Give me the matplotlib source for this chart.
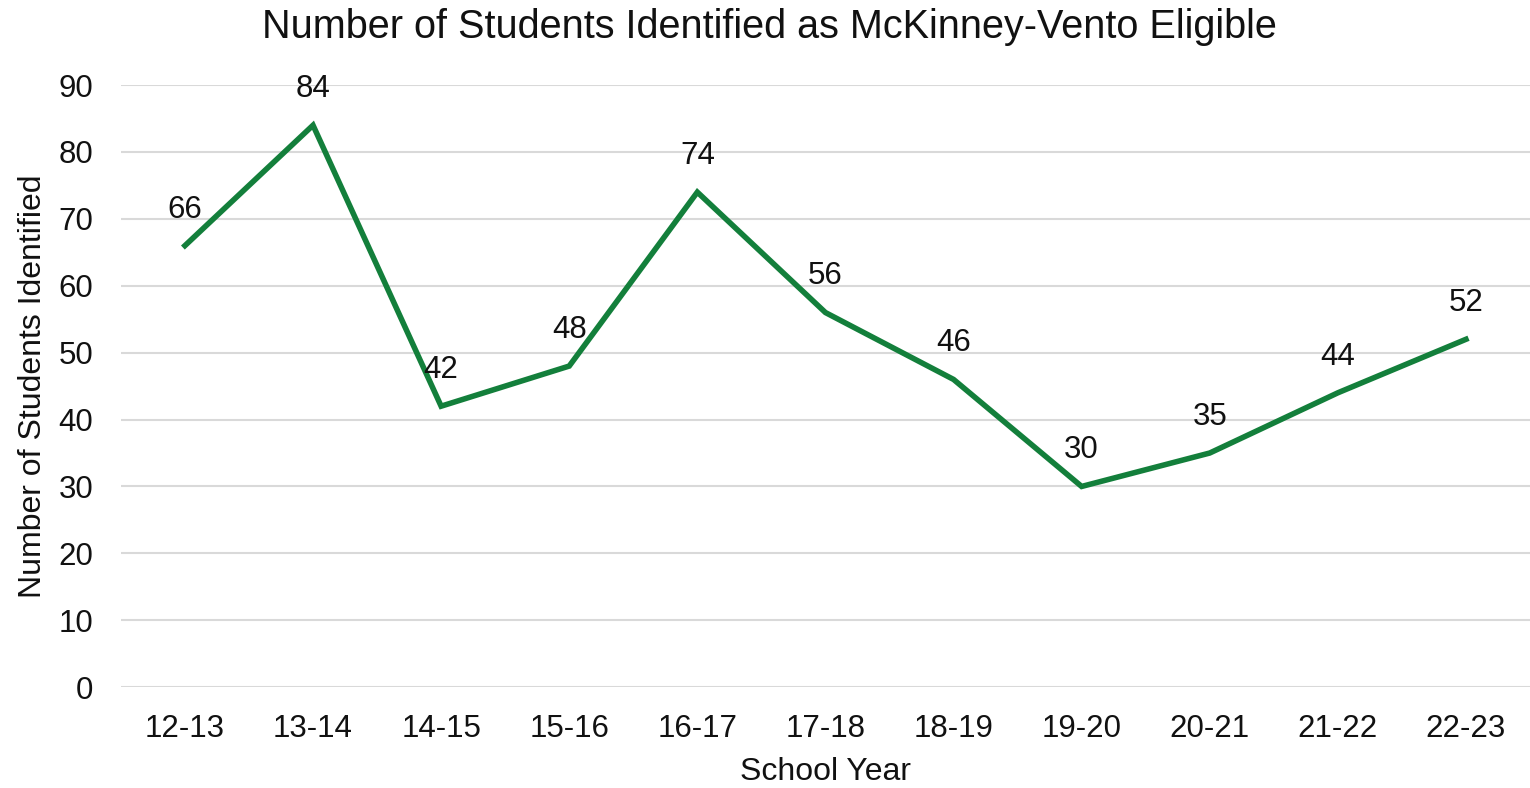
import matplotlib
matplotlib.use("Agg")
import matplotlib.pyplot as plt

# Data
years = ["12-13", "13-14", "14-15", "15-16", "16-17", "17-18",
         "18-19", "19-20", "20-21", "21-22", "22-23"]
students = [66, 84, 42, 48, 74, 56, 46, 30, 35, 44, 52]
yticks = [0, 10, 20, 30, 40, 50, 60, 70, 80, 90]

plt.rcParams["font.family"] = ["Liberation Sans", "DejaVu Sans"]

fig = plt.figure(figsize=(15.3, 7.88), dpi=100)
ax = fig.add_axes([0.079, 0.128, 0.921, 0.764])

x = range(len(years))
ax.plot(x, students, color="#137F3B", linewidth=4, solid_joinstyle="miter")

# value labels above each point
for xi, val in zip(x, students):
    ax.annotate(str(val), (xi, val), xytext=(0, 26), textcoords="offset points",
                ha="center", va="center", fontsize=22.5, color="#111111")

ax.set_xlim(-0.5, len(years) - 0.5)
ax.set_ylim(0, 90)
ax.set_xticks(list(x))
ax.set_xticklabels(years)
ax.set_yticks(yticks)
ax.tick_params(axis="both", length=0, labelsize=22.5, colors="#111111")
ax.tick_params(axis="x", pad=19)
ax.tick_params(axis="y", pad=20)

ax.grid(axis="y", color="#d9d9d9", linewidth=1.5)
ax.set_axisbelow(True)
for s in ax.spines.values():
    s.set_visible(False)

ax.set_xlabel("School Year", fontsize=23, color="#111111", labelpad=10)
ax.set_ylabel("Number of Students Identified", fontsize=23, color="#111111", labelpad=7)
fig.suptitle("Number of Students Identified as McKinney-Vento Eligible",
             fontsize=28.5, x=0.503, y=0.99, va="top", color="#111111")

fig.savefig("out.png", dpi=100)
